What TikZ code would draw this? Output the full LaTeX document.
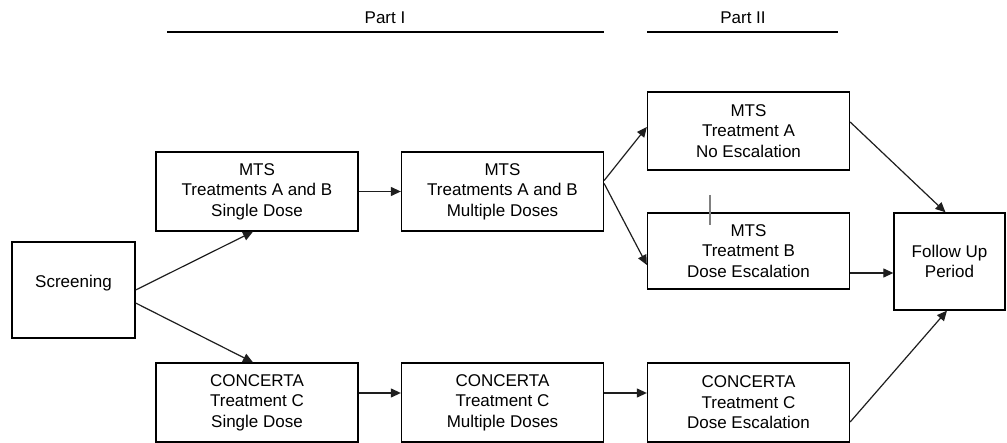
\documentclass[tikz,border=0pt]{standalone}
\usepackage{fontspec}
\setmainfont{Liberation Sans}
\usepackage{tikz}
\usetikzlibrary{arrows.meta}
\definecolor{inkmuted}{RGB}{30,30,30}

\begin{document}
\begin{tikzpicture}[x=1pt,y=-1pt,
 box/.style={draw,line width=1.3pt,align=center,inner sep=0pt,minimum width=202pt,minimum height=79pt,
  font=\fontsize{17}{20.5}\selectfont},
 arr/.style={-{Triangle[length=10pt,width=9pt]},line width=1.2pt,inkmuted}]
\useasboundingbox (0,0) rectangle (1007,443);
\node[font=\fontsize{17}{20.5}\selectfont] (partone) at (385,18) {Part I};
\node[font=\fontsize{17}{20.5}\selectfont] (parttwo) at (743,18) {Part II};
\draw[line width=2pt] (167,32) -- (604,32);
\draw[line width=2pt] (647,32) -- (838,32);
\node[box,minimum width=123pt,minimum height=96pt,text depth=17.6pt] (scr) at (73.5,290) {Screening};
\node[box] (mtsone) at (257,191.5) {MTS\\Treatments A and B\\Single Dose};
\node[box] (mtsmult) at (502.5,191.5) {MTS\\Treatments A and B\\Multiple Doses};
\node[box,minimum height=78pt] (mtsa) at (748.5,131) {MTS\\Treatment A\\No Escalation};
\node[box,minimum height=76pt] (mtsb) at (748.5,251) {MTS\\Treatment B\\Dose Escalation};
\node[box,minimum width=111pt,minimum height=97pt] (follow) at (949.5,261.5) {Follow Up\\Period};
\node[box] (conone) at (257,402.5) {CONCERTA\\Treatment C\\Single Dose};
\node[box] (conmult) at (502.5,402.5) {CONCERTA\\Treatment C\\Multiple Doses};
\node[box] (conesc) at (748.5,402.5) {CONCERTA\\Treatment C\\Dose Escalation};
\draw[gray,line width=1.2pt] (710,195) -- (710,225);
\draw[arr] (scr.east) -- ([xshift=-4pt]mtsone.south);
\draw[arr] ([yshift=-13pt]scr.east) -- ([xshift=-4pt]conone.north);
\draw[arr] (mtsone) -- (mtsmult);
\draw[arr] ([yshift=11pt]mtsmult.east) -- ([yshift=4pt]mtsa.west);
\draw[arr] ([yshift=8pt]mtsmult.east) -- ([yshift=-14pt]mtsb.west);
\draw[arr] ([yshift=9pt]mtsa.east) -- ([xshift=-4pt]follow.north);
\draw[arr] ([yshift=-22pt]mtsb.east) -- ([yshift=-11.5pt]follow.west);
\draw[arr] ([yshift=-19.5pt]conesc.east) -- ([xshift=-2.5pt]follow.south);
\draw[arr] ([yshift=9.5pt]conone.east) -- ([yshift=9.5pt]conmult.west);
\draw[arr] ([yshift=9.5pt]conmult.east) -- ([yshift=9.5pt]conesc.west);
\end{tikzpicture}
\end{document}
